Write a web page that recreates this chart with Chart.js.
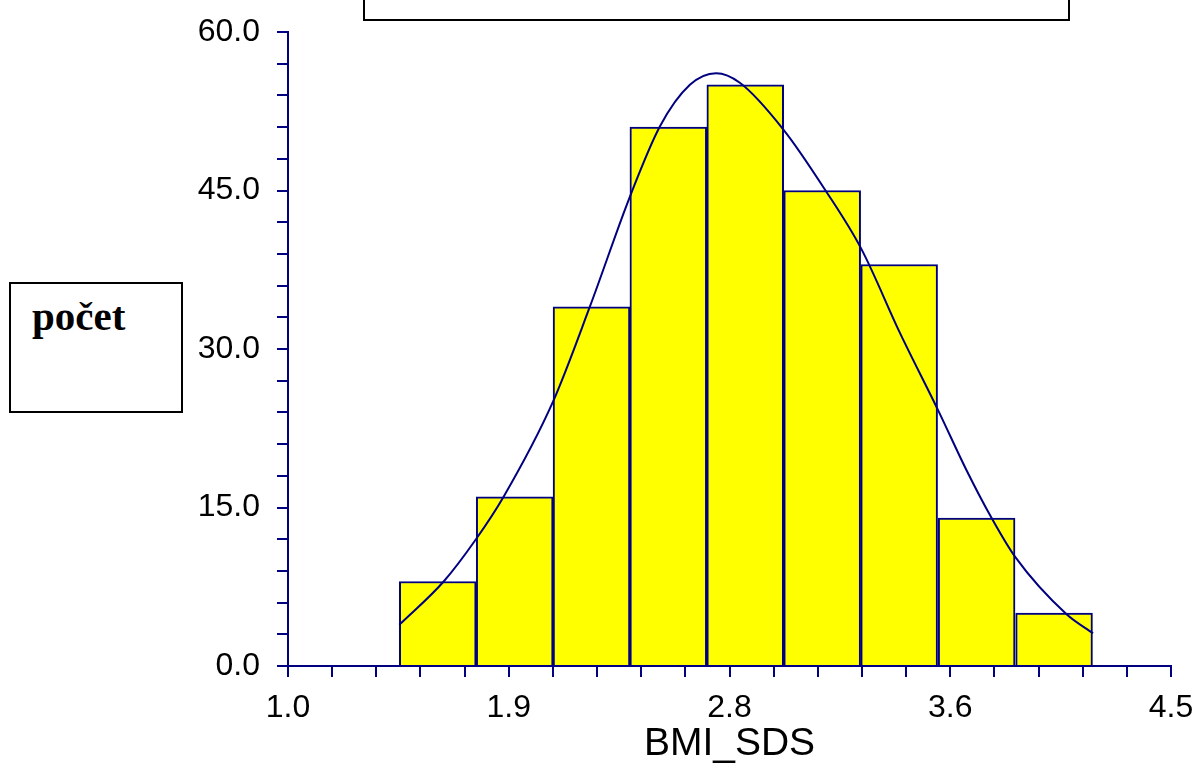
<!DOCTYPE html>
<html>
<head>
<meta charset="utf-8">
<script src="https://cdn.jsdelivr.net/npm/chart.js@4/dist/chart.umd.min.js"></script>
<style>
  html, body { margin: 0; padding: 0; background: #fff; }
  #wrap { position: relative; width: 1199px; height: 771px; overflow: hidden; }
  canvas { position: absolute; left: 0; top: 0; }
  #topBox { position: absolute; left: 363px; top: -20px; width: 707px; height: 41px;
            box-sizing: border-box; border: 2px solid #000; background: #fff; }
  #yBox { position: absolute; left: 9px; top: 282px; width: 174px; height: 131px;
          box-sizing: border-box; border: 2px solid #000; background: #fff; }
  #yLabel { position: absolute; left: 32px; top: 288px; font-family: "Liberation Serif", "Times New Roman", serif;
            font-weight: bold; font-size: 41px; line-height: 56px; color: #000; }
</style>
</head>
<body>
<div id="wrap">
  <canvas id="c" width="1199" height="771"></canvas>
  <div id="topBox"></div>
  <div id="yBox"></div>
  <div id="yLabel">počet</div>
</div>
<script>
// ---- data ----
const binEdges = [1.441, 1.746, 2.051, 2.355, 2.660, 2.965, 3.270, 3.575, 3.884, 4.189];
const counts = [8, 16, 34, 51, 55, 45, 38, 14, 5];
const curveX = [1.441, 1.617, 1.745, 1.854, 2.050, 2.198, 2.355, 2.475, 2.593, 2.697, 2.791, 2.966, 3.128, 3.272, 3.426, 3.579, 3.690, 3.789, 3.883, 4.086, 4.191];
const curveY = [3.9, 8.0, 12.0, 16.0, 25.0, 34.1, 44.4, 51.1, 55.0, 56.1, 55.2, 50.7, 45.1, 39.5, 31.5, 24.1, 18.5, 14.0, 10.3, 4.9, 3.1];
const xTickLabels = ['1.0', '1.9', '2.8', '3.6', '4.5'];
const xMin = 1.0, xMax = 4.5, xMinorStep = 0.175;
const yMin = 0, yMax = 60, yMinorStep = 3, yLabelStep = 15;
const xTitle = 'BMI_SDS';

// ---- build datasets ----
const barData = counts.map((v, i) => ({ x: (binEdges[i] + binEdges[i + 1]) / 2, y: v }));
const lineData = curveX.map((x, i) => ({ x: x, y: curveY[i] }));

const NAVY = '#000080';
const tickFont = { family: '"Liberation Sans", Arial, sans-serif', size: 32 };

new Chart(document.getElementById('c'), {
  type: 'bar',
  data: {
    datasets: [
      {
        type: 'line',
        data: lineData,
        xAxisID: 'x',
        yAxisID: 'y',
        borderColor: NAVY,
        borderWidth: 2,
        pointRadius: 0,
        cubicInterpolationMode: 'monotone',
        fill: false,
        order: 0
      },
      {
        type: 'bar',
        data: barData,
        xAxisID: 'x',
        yAxisID: 'y',
        backgroundColor: '#ffff00',
        borderColor: NAVY,
        borderWidth: 2,
        barPercentage: 1,
        categoryPercentage: 1,
        order: 1
      }
    ]
  },
  options: {
    responsive: false,
    animation: false,
    devicePixelRatio: 1,
    layout: { padding: { left: 0, right: 28, top: 32, bottom: 0 } },
    plugins: { legend: { display: false }, tooltip: { enabled: false } },
    scales: {
      x: {
        type: 'linear',
        display: false,
        min: xMin, max: xMax,
        offset: false,
        grid: { offset: false },
        ticks: { stepSize: 1 }
      },
      xAxis: {
        type: 'linear',
        position: 'bottom',
        min: xMin, max: xMax,
        offset: false,
        afterBuildTicks: (scale) => {
          const n = Math.round((xMax - xMin) / xMinorStep);
          const t = [];
          for (let i = 0; i <= n; i++) t.push({ value: xMin + i * xMinorStep });
          scale.ticks = t;
        },
        afterFit: (scale) => { scale.height = 105; scale.paddingLeft = 0; scale.paddingRight = 0; },
        ticks: {
          autoSkip: false, maxRotation: 0, minRotation: 0,
          padding: 12, color: '#000', font: tickFont,
          callback: (v, i) => (i % 5 === 0 ? xTickLabels[i / 5] : '')
        },
        grid: { offset: false, drawOnChartArea: false, drawTicks: true, tickLength: 11, color: NAVY, lineWidth: 2 },
        border: { display: true, color: NAVY, width: 2 },
        title: { display: true, text: xTitle, color: '#000',
                 font: { family: '"Liberation Sans", Arial, sans-serif', size: 39 },
                 padding: { top: 0, bottom: 3 } }
      },
      y: {
        type: 'linear',
        position: 'left',
        min: yMin, max: yMax,
        afterFit: (scale) => { scale.width = 288; scale.paddingTop = 0; scale.paddingBottom = 0; },
        ticks: {
          stepSize: yMinorStep, autoSkip: false, padding: 17, color: '#000', font: tickFont,
          callback: (v) => (Math.abs(v % yLabelStep) < 1e-9 ? v.toFixed(1) : '')
        },
        grid: { drawOnChartArea: false, drawTicks: true, tickLength: 11, color: NAVY, lineWidth: 2 },
        border: { display: true, color: NAVY, width: 2 }
      }
    }
  }
});
</script>
</body>
</html>
